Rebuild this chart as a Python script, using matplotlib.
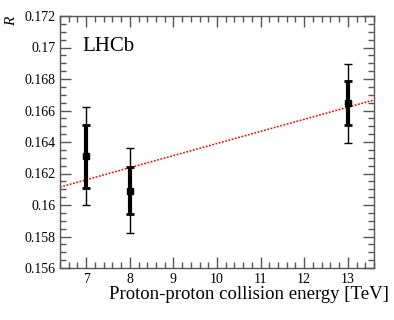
import numpy as np
import matplotlib.pyplot as plt
from matplotlib.ticker import MultipleLocator

plt.rcParams['font.family'] = ['Liberation Serif', 'DejaVu Serif']
plt.rcParams['mathtext.fontset'] = 'custom'
plt.rcParams['mathtext.it'] = 'Liberation Serif:italic'

# Measurements
energy = [7, 8, 13]
ratio = [0.1631, 0.1609, 0.16645]
err_stat = [0.0020, 0.0015, 0.0014]
err_tot = [0.0031, 0.0027, 0.0025]

# Fitted line, evaluated at the axis edges
fit_x = [6.4, 13.6]
fit_y = [0.16114, 0.16667]

fig = plt.figure(figsize=(3.94, 3.2), dpi=100)
ax = fig.add_axes([0.1523, 0.1625, 0.7969, 0.7875])

ax.plot(fit_x, fit_y, color='red', linestyle=(0, (1.2, 1.0)), linewidth=1.1, zorder=1)

# total uncertainty (thin) then statistical (thick)
ax.errorbar(energy, ratio, yerr=err_tot, fmt='none', ecolor='black',
            elinewidth=1.0, capsize=3.2, capthick=1.0, zorder=2)
ax.errorbar(energy, ratio, yerr=err_stat, fmt='s', color='black', ms=5,
            ecolor='black', elinewidth=3.0, capsize=3.2, capthick=2.0, zorder=3)

ax.set_xlim(6.4, 13.6)
ax.set_ylim(0.156, 0.172)
ax.xaxis.set_minor_locator(MultipleLocator(0.2))
ax.yaxis.set_minor_locator(MultipleLocator(0.0005))
ax.set_xticks([7, 8, 9, 10, 11, 12, 13])
ax.set_yticks(np.arange(0.156, 0.1721, 0.002))
ax.set_yticklabels(['0.156', '0.158', '0.16', '0.162', '0.164', '0.166',
                    '0.168', '0.17', '0.172'])

spine_col = '#555555'
for s in ax.spines.values():
    s.set_color(spine_col)
    s.set_linewidth(1.0)
ax.tick_params(which='both', direction='in', top=True, right=True,
               colors=spine_col, labelcolor='black', labelsize=10)
ax.tick_params(which='major', length=8, width=1.0)
ax.tick_params(which='minor', length=4, width=1.0)
ax.tick_params(axis='x', pad=3.5)
ax.tick_params(axis='y', pad=3)

ax.text(0.070, 0.877, 'LHCb', transform=ax.transAxes, fontsize=15,
        va='center', ha='left')
ax.set_xlabel('Proton-proton collision energy [TeV]', fontsize=13.5,
              ha='right', va='center')
ax.xaxis.set_label_coords(1.048, -0.107)
fig.text(0.027, 0.936, r'$R$', fontsize=11, rotation=90, ha='center', va='center')

fig.savefig('out.png', dpi=100)
